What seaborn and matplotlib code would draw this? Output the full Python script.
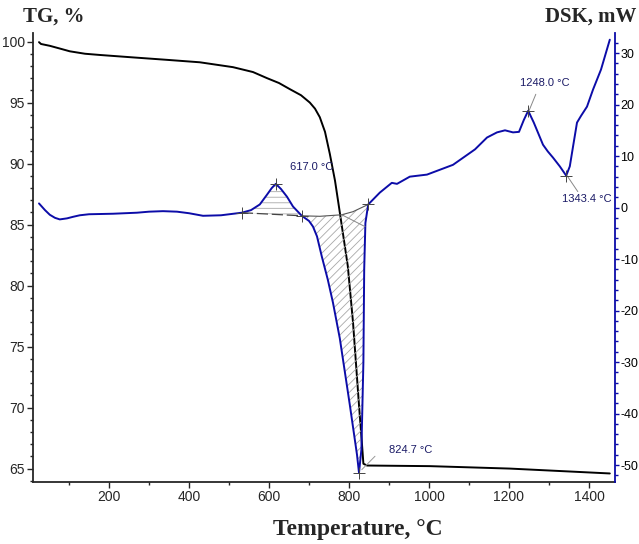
import numpy as np
import pandas as pd
import matplotlib
matplotlib.use("Agg")
import matplotlib.pyplot as plt
from matplotlib.ticker import MultipleLocator
import seaborn as sns

# ---------------- data ----------------
tg_temp = [25, 30, 52, 80, 102, 140, 177, 260, 345, 427, 510, 560, 595, 625, 652, 680, 702,
           715, 727, 740, 752, 765, 777, 797, 810, 825, 832, 836, 845, 1002, 1202, 1452]
tg_val = [99.95, 99.8, 99.65, 99.4, 99.2, 99.0, 98.9, 98.7, 98.5, 98.3, 97.9, 97.5, 97.0,
          96.6, 96.1, 95.6, 95.0, 94.5, 93.8, 92.6, 90.8, 88.6, 86.0, 81.6, 77.0, 70.2,
          67.2, 65.4, 65.25, 65.2, 65.0, 64.6]

dsc_temp = [25, 40, 52, 65, 77, 95, 110, 127, 150, 180, 210, 270, 300, 335, 370, 400, 435,
            480, 532, 555, 577, 595, 607, 617, 630, 645, 660, 682, 700, 710, 720, 732, 747,
            760, 777, 802, 820, 825, 831, 836, 838, 841, 848, 877, 907, 920, 952, 995, 1060,
            1115, 1145, 1170, 1190, 1210, 1225, 1237, 1248, 1262, 1285, 1297, 1310, 1327,
            1343, 1352, 1360, 1370, 1380, 1395, 1410, 1430, 1452]
dsc_val = [0.8, -0.5, -1.4, -2.0, -2.3, -2.1, -1.8, -1.5, -1.3, -1.25, -1.2, -1.0, -0.8,
           -0.7, -0.8, -1.1, -1.6, -1.5, -1.0, -0.5, 0.6, 2.5, 3.8, 4.6, 3.6, 2.1, 0.2,
           -1.6, -2.6, -3.7, -5.6, -9.5, -14.0, -18.5, -25.4, -38.3, -48.0, -51.5, -47.0,
           -30.0, -12.0, -3.0, 0.6, 2.9, 4.8, 4.6, 6.0, 6.4, 8.3, 11.3, 13.6, 14.6, 15.0,
           14.6, 14.7, 17.0, 18.8, 16.5, 12.2, 10.9, 9.7, 8.0, 6.2, 8.0, 11.8, 16.5, 17.8,
           19.6, 22.9, 26.8, 32.6]

# integration baselines
peak1_base_t = [532, 682]
peak1_base_v = [-1.0, -1.6]
peak2_base_t = [682, 727, 782, 810, 848]
peak2_base_v = [-1.6, -1.7, -1.4, -0.8, 0.6]

marked_t = [532, 617, 682, 848, 1248, 1343]
marked_v = [-1.0, 4.6, -1.6, 0.6, 18.8, 6.2]
min_t, min_v = 825, -51.5

labels = ["617.0 °C", "824.7 °C", "1248.0 °C", "1343.4 °C"]
label_t = [707, 955, 1290, 1395]
label_v = [7.8, -47.0, 24.1, 1.7]

xticks = [200, 400, 600, 800, 1000, 1200, 1400]
tg_ticks = [65, 70, 75, 80, 85, 90, 95, 100]
dsc_ticks = [-50, -40, -30, -20, -10, 0, 10, 20, 30]

# ---------------- style ----------------
sns.set_theme(style="ticks")
plt.rcParams['font.family'] = ['Liberation Sans', 'DejaVu Sans']
plt.rcParams['hatch.linewidth'] = 0.6
plt.rcParams['axes.unicode_minus'] = False

BLUE = "#0c0ca8"
NAVY = "#1a1a66"

fig = plt.figure(figsize=(6.39, 5.44), dpi=100)
ax = fig.add_axes([33 / 639, 1 - 482 / 544, (615 - 33) / 639, (482 - 33) / 544])
ax2 = ax.twinx()

tg_df = pd.DataFrame({"T": tg_temp, "TG": tg_val})
dsc_df = pd.DataFrame({"T": dsc_temp, "DSC": dsc_val})

sns.lineplot(data=tg_df, x="T", y="TG", ax=ax, color="black", lw=1.4, estimator=None)
sns.lineplot(data=dsc_df, x="T", y="DSC", ax=ax2, color=BLUE, lw=1.4, estimator=None)

# hatched areas
t = np.array(dsc_temp)
v = np.array(dsc_val)
m1 = (t >= peak1_base_t[0]) & (t <= peak1_base_t[-1])
ax2.fill(np.concatenate([t[m1], peak1_base_t[::-1]]),
         np.concatenate([v[m1], peak1_base_v[::-1]]),
         facecolor="none", edgecolor="#a8a8a8", hatch="---", lw=0, zorder=1)
m2 = (t >= peak2_base_t[0]) & (t <= peak2_base_t[-1])
ax2.fill(np.concatenate([t[m2], peak2_base_t[::-1]]),
         np.concatenate([v[m2], peak2_base_v[::-1]]),
         facecolor="none", edgecolor="#a8a8a8", hatch="////", lw=0, zorder=1)

ax2.plot(peak1_base_t, peak1_base_v, color="#444444", lw=0.9, ls=(0, (9, 3)), zorder=2)
ax2.plot(peak2_base_t, peak2_base_v, color="#555555", lw=0.8, zorder=2)
ax2.plot([782, 840], [-1.4, -3.7], color="#888888", lw=0.7, zorder=2)
ax2.plot([832, 865], [-50.9, -48.3], color="#999999", lw=0.7, zorder=2)

ax2.plot(marked_t, marked_v, ls="none", marker="+", ms=8, mew=0.7, color="#444444", zorder=4)
ax2.plot([min_t], [min_v], ls="none", marker="+", ms=8, mew=0.7, color="#444444", zorder=4)

# leaders
ax2.plot([1250, 1267], [18.8, 22.0], color="#888888", lw=0.7)
ax2.plot([1345, 1372], [6.2, 3.1], color="#888888", lw=0.7)

for s, xt, yv in zip(labels, label_t, label_v):
    ax2.text(xt, yv, s, color=NAVY, fontsize=8, ha="center", va="center")

# axes
ax.set_xlim(10, 1465)
ax.set_ylim(63.9, 100.7)
ax2.set_ylim(-53.3, 33.9)
ax.set_xticks(xticks)
ax.set_yticks(tg_ticks)
ax2.set_yticks(dsc_ticks)
ax.xaxis.set_minor_locator(MultipleLocator(100))
ax.yaxis.set_minor_locator(MultipleLocator(1))
ax2.yaxis.set_minor_locator(MultipleLocator(2))
ax.set_xlabel("")
ax.set_ylabel("")
ax2.set_ylabel("")

for a in (ax, ax2):
    a.spines["top"].set_visible(False)
    a.tick_params(which="major", length=4, width=1, labelsize=10, pad=2)
    a.tick_params(which="minor", length=2, width=1)
ax2.tick_params(axis="y", which="major", length=3, pad=1, labelsize=9)
ax.spines["left"].set_linewidth(1.3)
ax.spines["bottom"].set_linewidth(1.3)
ax2.spines["left"].set_visible(False)
ax2.spines["bottom"].set_visible(False)
ax2.spines["right"].set_color(BLUE)
ax2.spines["right"].set_linewidth(1.3)
ax2.tick_params(axis="y", which="both", color=BLUE, labelcolor="black")
ax.spines["right"].set_visible(False)

serif = ['Liberation Serif', 'DejaVu Serif']
fig.text(54 / 639, 1 - 17 / 544, "TG, %", family=serif, fontweight="bold",
         fontsize=15, ha="center", va="center")
fig.text(636 / 639, 1 - 17 / 544, "DSK, mW", family=serif, fontweight="bold",
         fontsize=15, ha="right", va="center")
fig.text(358 / 639, 1 - 529 / 544, "Temperature, °C", family=serif, fontweight="bold",
         fontsize=17, ha="center", va="center")

fig.savefig("out.png", dpi=100)
